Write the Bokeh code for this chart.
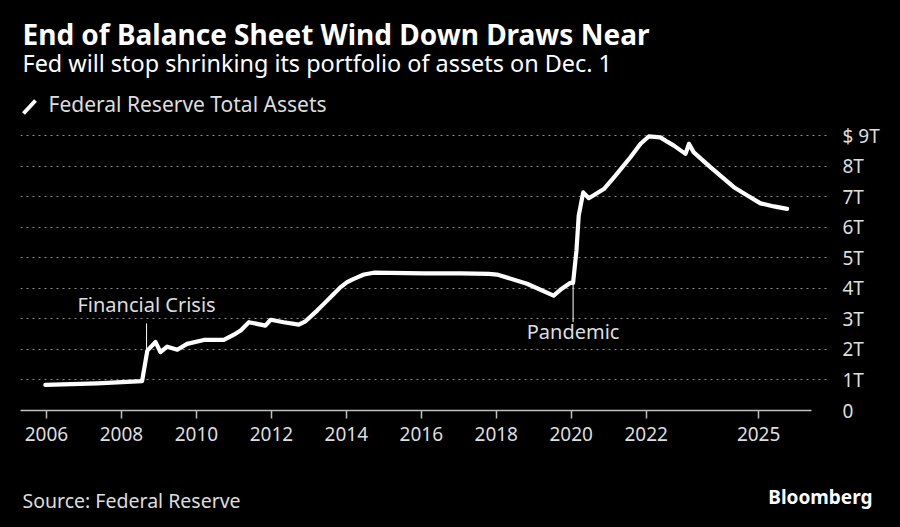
from bokeh.plotting import figure
from bokeh.models import Range1d, FixedTicker, Label
from bokeh.layouts import column
from bokeh.embed import file_html
from bokeh.resources import INLINE

# ---- data ----
years = [2005.97, 2007.35, 2008.55, 2008.69, 2008.91, 2009.04, 2009.22, 2009.49, 2009.75, 2010.2,
         2010.73, 2011.0, 2011.18, 2011.4, 2011.84, 2011.98, 2012.33, 2012.73, 2012.91, 2013.22,
         2013.4, 2013.67, 2013.84, 2014.02, 2014.2, 2014.47, 2014.73, 2016.07, 2017.05, 2017.8,
         2018.02, 2018.82, 2019.53, 2019.71, 2019.98, 2020.05, 2020.14, 2020.2, 2020.32, 2020.47,
         2020.87, 2021.18, 2021.58, 2021.85, 2022.07, 2022.38, 2022.56, 2022.74, 2023.05, 2023.14,
         2023.27, 2023.72, 2024.34, 2024.7, 2025.05, 2025.41, 2025.76]
assets_trn = [0.84, 0.89, 0.96, 1.96, 2.24, 1.91, 2.09, 1.99, 2.18, 2.31,
              2.31, 2.48, 2.62, 2.89, 2.78, 2.97, 2.89, 2.81, 2.92, 3.27,
              3.49, 3.82, 4.03, 4.20, 4.31, 4.45, 4.51, 4.49, 4.49, 4.47,
              4.45, 4.15, 3.76, 3.95, 4.18, 4.18, 5.24, 6.38, 7.14, 6.95,
              7.25, 7.69, 8.29, 8.73, 8.97, 8.94, 8.80, 8.67, 8.40, 8.73,
              8.45, 7.96, 7.31, 7.04, 6.78, 6.68, 6.60]

x_ticks = [2006, 2008, 2010, 2012, 2014, 2016, 2018, 2020, 2022, 2025]
x_tick_labels = ["2006", "2008", "2010", "2012", "2014", "2016", "2018", "2020", "2022", "2025"]
y_ticks = [0, 1, 2, 3, 4, 5, 6, 7, 8, 9]
y_tick_labels = ["0", "1T", "2T", "3T", "4T", "5T", "6T", "7T", "8T", "$ 9T"]

ann_text = ["Financial Crisis", "Pandemic"]
ann_x = [2008.67, 2020.05]
ann_line_top = [2.85, 4.17]
ann_line_bottom = [1.96, 2.89]
ann_text_y = [3.2, 2.32]

title_text = "End of Balance Sheet Wind Down Draws Near"
subtitle_text = "Fed will stop shrinking its portfolio of assets on Dec. 1"
legend_text = "Federal Reserve Total Assets"
source_text = "Source: Federal Reserve"
brand_text = "Bloomberg"

# ---- layout helpers (page pixel -> data coordinates) ----
W = 900
H_MAIN, H_FOOT = 470, 57
PX_PER_YEAR = 37.48
PX_PER_T = 30.55
def X(ix):
    return 2006 + (ix - 46) / PX_PER_YEAR
def Y(iy):
    return (410 - iy) / PX_PER_T
BASE_FIX = 0.42  # label baseline correction, in em

FONT = "Noto Sans"
TXT = "#dedede"

p = figure(width=W, height=H_MAIN, output_backend="svg", toolbar_location=None,
           x_range=Range1d(X(20), X(828)), y_range=Range1d(0, Y(0)),
           y_axis_location="right",
           min_border_left=20, min_border_right=W - 828, min_border_top=0,
           min_border_bottom=H_MAIN - 410)
p.frame_align = False
p.background_fill_color = "black"
p.border_fill_color = "black"
p.outline_line_color = None

# grid
p.xgrid.visible = False
p.ygrid.ticker = FixedTicker(ticks=y_ticks)
p.ygrid.grid_line_color = "#8a8a8a"
p.ygrid.grid_line_dash = "2 4"
p.ygrid.grid_line_width = 1

# y axis (right)
p.yaxis.ticker = FixedTicker(ticks=y_ticks)
p.yaxis.major_label_overrides = {t: l for t, l in zip(y_ticks, y_tick_labels)}
p.yaxis.axis_line_color = None
p.yaxis.major_tick_line_color = None
p.yaxis.minor_tick_line_color = None
p.yaxis.major_label_standoff = 8
p.yaxis.major_label_text_font = FONT
p.yaxis.major_label_text_font_size = "19px"
p.yaxis.major_label_text_color = TXT

# x axis
p.xaxis.ticker = FixedTicker(ticks=x_ticks)
p.xaxis.major_label_overrides = {t: l for t, l in zip(x_ticks, x_tick_labels)}
p.xaxis.bounds = (X(20), X(810.7))
p.xaxis.axis_line_color = "#c0c0c0"
p.xaxis.axis_line_width = 1.5
p.xaxis.major_tick_line_color = "#c0c0c0"
p.xaxis.major_tick_line_width = 1.5
p.xaxis.major_tick_out = 8
p.xaxis.major_tick_in = 0
p.xaxis.minor_tick_line_color = None
p.xaxis.major_label_standoff = 8
p.xaxis.major_label_text_font = FONT
p.xaxis.major_label_text_font_size = "19px"
p.xaxis.major_label_text_color = TXT

# series
p.line(years, assets_trn, line_width=4.2, color="white", line_join="round", line_cap="round")

# annotations
p.segment(x0=ann_x, y0=ann_line_top, x1=ann_x, y1=ann_line_bottom, line_color="white", line_width=1)
for t, x, y in zip(ann_text, ann_x, ann_text_y):
    p.add_layout(Label(x=x, y=y + BASE_FIX * 20 / PX_PER_T, text=t, text_font=FONT,
                       text_font_size="20px", text_color=TXT, text_align="center",
                       text_baseline="alphabetic"))

def top_label(ix, iy, text, size, bold=False, color="white"):
    p.add_layout(Label(x=X(ix), y=Y(iy - BASE_FIX * size), text=text, text_font=FONT,
                       text_font_size=f"{size}px", text_font_style="bold" if bold else "normal",
                       text_color=color, text_baseline="alphabetic"))

# titles
top_label(22, 45, title_text, 28, bold=True)
top_label(22, 72, subtitle_text, 23.4)
# legend
p.line([X(23), X(35)], [Y(113), Y(100)], line_width=4, color="white")
top_label(48, 112.7, legend_text, 21, color=TXT)

# footer strip (page pixel coordinates, y downwards)
f = figure(width=W, height=H_FOOT, output_backend="svg", toolbar_location=None,
           x_range=Range1d(0, W), y_range=Range1d(H_MAIN + H_FOOT, H_MAIN),
           x_axis_location=None, y_axis_location=None,
           min_border_left=0, min_border_right=0, min_border_top=0, min_border_bottom=0)
f.frame_align = False
f.background_fill_color = "black"
f.border_fill_color = "black"
f.outline_line_color = None
f.grid.visible = False
f.add_layout(Label(x=22, y=507.7 - BASE_FIX * 19.5, text=source_text, text_font=FONT,
                   text_font_size="19.5px", text_color=TXT, text_baseline="alphabetic"))
f.add_layout(Label(x=872, y=504 - BASE_FIX * 19, text=brand_text, text_font=FONT,
                   text_font_size="19px", text_font_style="bold", text_color="white",
                   text_align="right", text_baseline="alphabetic"))

layout = column(p, f, spacing=0)
html = file_html(layout, INLINE, title="Fed balance sheet")
html = html.replace("</head>", "<style>html,body{background:#000;}</style></head>")
open("out.html", "w").write(html)
